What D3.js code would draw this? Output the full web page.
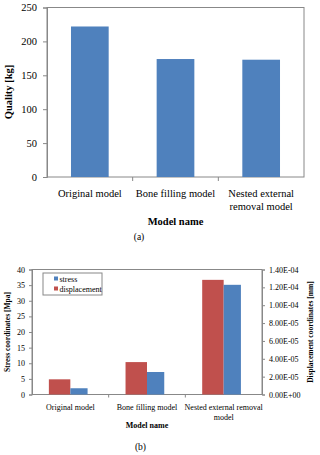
<!DOCTYPE html>
<html>
<head>
<meta charset="utf-8">
<script src="https://cdn.jsdelivr.net/npm/d3@7"></script>
<style>
  body { margin: 0; background: #fff; }
  svg { display: block; }
</style>
</head>
<body>
<div id="chart"></div>
<script>
// chart (a): mass of each model
var categories = ["Original model", "Bone filling model", "Nested external removal model"];
var labelsA = [["Original model"], ["Bone filling model"], ["Nested external", "removal model"]];
var quality = [222, 174, 173];
var qualityTicks = [0, 50, 100, 150, 200, 250];

// chart (b): stress and displacement
var labelsB = [["Original model"], ["Bone filling model"], ["Nested external removal", "model"]];
var stress = [2.0, 7.2, 35.1];
var displacement = [1.7e-5, 3.63e-5, 1.284e-4];
var stressTicks = [0, 5, 10, 15, 20, 25, 30, 35, 40];
var dispTicks = [0, 2e-5, 4e-5, 6e-5, 8e-5, 1e-4, 1.2e-4, 1.4e-4];

var blue = "#4f81bd", red = "#c0504d", grey = "#888888";
var serif = "'Liberation Serif', 'Times New Roman', serif";

var svg = d3.select("#chart").append("svg")
       .attr("width", 320)
       .attr("height", 455);

// excel style 1.40E-04
function sci(v) {
       var p = v.toExponential(2).split("e");
       var e = +p[1];
       return p[0] + "E" + (e < 0 ? "-" : "+") + String(Math.abs(e)).padStart(2, "0");
}

function catLabels(g, x, lines, y0, lh, size) {
       categories.forEach(function (c, i) {
              var t = g.append("text")
                     .attr("text-anchor", "middle")
                     .style("font", size + "px " + serif);
              lines[i].forEach(function (s, j) {
                     t.append("tspan")
                            .attr("x", x(c) + x.bandwidth() / 2)
                            .attr("y", y0 + j * lh)
                            .text(s);
              });
       });
}

// ---------- (a) ----------
var gA = svg.append("g");
var xA = d3.scaleBand().domain(categories).range([47, 304]).padding(0);
var yA = d3.scaleLinear().domain([0, 250]).range([177, 7.5]);

gA.append("rect")
       .attr("x", 47).attr("y", 7.5)
       .attr("width", 257).attr("height", 169.5)
       .style("fill", "none").style("stroke", grey);

gA.selectAll(".bar")
       .data(quality)
       .enter().append("rect")
       .attr("x", function (d, i) { return xA(categories[i]) + xA.bandwidth() * 0.28; })
       .attr("width", xA.bandwidth() * 0.44)
       .attr("y", function (d) { return yA(d); })
       .attr("height", function (d) { return yA(0) - yA(d); })
       .style("fill", blue);

var axA = gA.append("g")
       .attr("transform", "translate(47,0)")
       .call(d3.axisLeft(yA).tickValues(qualityTicks).tickSize(4).tickPadding(6));
axA.select(".domain").style("stroke", grey);
axA.selectAll("line").style("stroke", grey);
axA.selectAll("text").style("font", "10.5px " + serif).style("fill", "#000");

// category dividers on the x axis
gA.selectAll(".div")
       .data(categories.slice(1))
       .enter().append("line")
       .attr("x1", function (c) { return xA(c); })
       .attr("x2", function (c) { return xA(c); })
       .attr("y1", 177).attr("y2", 181)
       .style("stroke", grey);

catLabels(gA, xA, labelsA, 196.5, 13, 10.5);

gA.append("text")
       .attr("x", 175.5).attr("y", 225)
       .attr("text-anchor", "middle")
       .style("font", "bold 10.5px " + serif)
       .text("Model name");

gA.append("text")
       .attr("transform", "translate(12,92) rotate(-90)")
       .attr("text-anchor", "middle")
       .style("font", "bold 10.5px " + serif)
       .text("Quality [kg]");

svg.append("text")
       .attr("x", 139).attr("y", 240)
       .attr("text-anchor", "middle")
       .style("font", "9.5px " + serif)
       .text("(a)");

// ---------- (b) ----------
var gB = svg.append("g");
var xB = d3.scaleBand().domain(categories).range([32, 262]).padding(0);
var yS = d3.scaleLinear().domain([0, 40]).range([394.5, 269.5]);
var yD = d3.scaleLinear().domain([0, 1.4e-4]).range([394.5, 269.5]);

gB.append("rect")
       .attr("x", 32).attr("y", 269.5)
       .attr("width", 230).attr("height", 125)
       .style("fill", "none").style("stroke", grey);

var bw = xB.bandwidth();
gB.selectAll(".disp")
       .data(displacement)
       .enter().append("rect")
       .attr("x", function (d, i) { return xB(categories[i]) + bw / 2 - bw * 0.28; })
       .attr("width", bw * 0.28)
       .attr("y", function (d) { return yD(d); })
       .attr("height", function (d) { return yD(0) - yD(d); })
       .style("fill", red);

gB.selectAll(".stress")
       .data(stress)
       .enter().append("rect")
       .attr("x", function (d, i) { return xB(categories[i]) + bw / 2; })
       .attr("width", bw * 0.225)
       .attr("y", function (d) { return yS(d); })
       .attr("height", function (d) { return yS(0) - yS(d); })
       .style("fill", blue);

var axS = gB.append("g")
       .attr("transform", "translate(32,0)")
       .call(d3.axisLeft(yS).tickValues(stressTicks).tickSize(3).tickPadding(4));
var axD = gB.append("g")
       .attr("transform", "translate(262,0)")
       .call(d3.axisRight(yD).tickValues(dispTicks).tickFormat(sci).tickSize(3).tickPadding(4));
[axS, axD].forEach(function (a) {
       a.select(".domain").style("stroke", grey);
       a.selectAll("line").style("stroke", grey);
       a.selectAll("text").style("font", "8px " + serif).style("fill", "#000");
});

gB.selectAll(".div")
       .data(categories.slice(1))
       .enter().append("line")
       .attr("x1", function (c) { return xB(c); })
       .attr("x2", function (c) { return xB(c); })
       .attr("y1", 394.5).attr("y2", 397.5)
       .style("stroke", grey);

catLabels(gB, xB, labelsB, 409.5, 10, 8);

gB.append("text")
       .attr("x", 147).attr("y", 428)
       .attr("text-anchor", "middle")
       .style("font", "bold 8px " + serif)
       .text("Model name");

gB.append("text")
       .attr("transform", "translate(10,332) rotate(-90)")
       .attr("text-anchor", "middle")
       .style("font", "bold 7.5px " + serif)
       .text("Stress coordinates [Mpa]");

gB.append("text")
       .attr("transform", "translate(313,332) rotate(-90)")
       .attr("text-anchor", "middle")
       .style("font", "bold 7.5px " + serif)
       .text("Displacement coordinates  [mm]");

// legend
var leg = gB.append("g");
leg.append("rect")
       .attr("x", 43).attr("y", 273)
       .attr("width", 59).attr("height", 22)
       .style("fill", "#fff").style("stroke", grey);
[["stress", blue], ["displacement", red]].forEach(function (e, i) {
       leg.append("rect")
              .attr("x", 54).attr("y", 276.5 + i * 10)
              .attr("width", 4).attr("height", 4)
              .style("fill", e[1]);
       leg.append("text")
              .attr("x", 59.5).attr("y", 281.5 + i * 10)
              .style("font", "8px " + serif)
              .text(e[0]);
});

svg.append("text")
       .attr("x", 140.5).attr("y", 450)
       .attr("text-anchor", "middle")
       .style("font", "9.5px " + serif)
       .text("(b)");
</script>
</body>
</html>
